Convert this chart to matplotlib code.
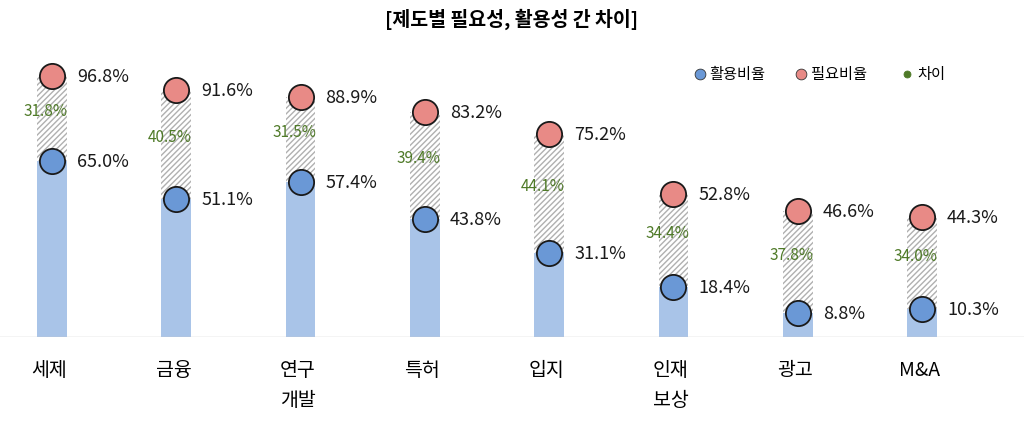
import matplotlib
matplotlib.use("Agg")
import matplotlib.pyplot as plt

plt.rcParams['font.family'] = ['Noto Sans CJK KR', 'DejaVu Sans']
plt.rcParams['hatch.color'] = '#9a9a9a'

categories = ['세제', '금융', '연구\n개발', '특허', '입지', '인재\n보상', '광고', 'M&A']
usage = [65.0, 51.1, 57.4, 43.8, 31.1, 18.4, 8.8, 10.3]
need = [96.8, 91.6, 88.9, 83.2, 75.2, 52.8, 46.6, 44.3]
diff = [31.8, 40.5, 31.5, 39.4, 44.1, 34.4, 37.8, 34.0]

fig = plt.figure(figsize=(10.24, 4.35), dpi=100)
ax = fig.add_axes([0.0, 0.223, 1.0, 0.683])
x = list(range(len(categories)))
ax.set_xlim(-0.418, 7.82)
ax.set_ylim(0, 110)

ax.bar(x, usage, width=0.24, color='#a9c4e8', zorder=1)
ax.bar(x, [n - u for n, u in zip(need, usage)], bottom=usage, width=0.24,
       color='white', hatch='//////', edgecolor='#b0b0b0', linewidth=0, zorder=1)
ax.scatter(x, usage, s=330, color='#6a98d6', edgecolor='#1a1a1a', linewidth=1.3, zorder=3)
ax.scatter(x, need, s=330, color='#e88a86', edgecolor='#1a1a1a', linewidth=1.3, zorder=3)
for i in x:
    ax.text(i + 0.2, usage[i], f'{usage[i]:.1f}%', fontsize=13, va='center', ha='left', color='#1a1a1a')
    ax.text(i + 0.2, need[i], f'{need[i]:.1f}%', fontsize=13, va='center', ha='left', color='#1a1a1a')
    ax.text(i - 0.05, (usage[i] + need[i]) / 2 + 3, f'{diff[i]:.1f}%', fontsize=11,
            va='center', ha='center', color='#4f7a28', zorder=4)

ax.axhline(0, color='#c8c8c8', linewidth=1)
for i in x:
    ax.text(i - 0.02, -8, categories[i], fontsize=14, ha='center', va='top', linespacing=1.6)
for s in ax.spines.values():
    s.set_visible(False)
ax.set_xticks([]); ax.set_yticks([])

# legend
lx = [5.21, 6.03, 6.88]
labs = ['활용비율', '필요비율', '차이']
cols = ['#6a98d6', '#e88a86', '#4f7a28']
sizes = [60, 60, 25]
for px, l, c, s in zip(lx, labs, cols, sizes):
    ax.scatter([px], [97.5], s=s, color=c, edgecolor='#333' if s > 30 else c, linewidth=0.6, clip_on=False)
    ax.text(px + 0.08, 97.5, l, fontsize=11, va='center', ha='left')

fig.text(0.5, 0.955, '[제도별 필요성, 활용성 간 차이]', ha='center', va='center',
         fontsize=14, fontweight='bold')
fig.savefig('out.png', dpi=100)
